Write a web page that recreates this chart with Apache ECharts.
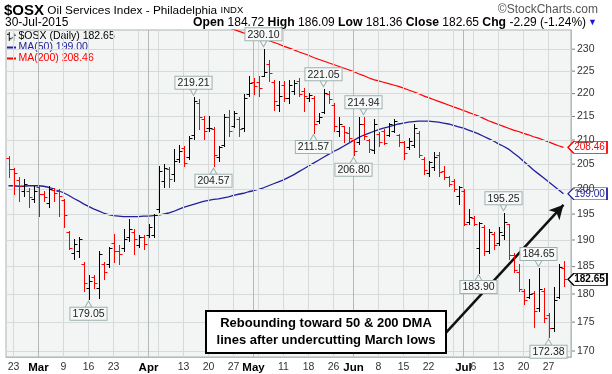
<!DOCTYPE html>
<html><head><meta charset="utf-8">
<script src="https://cdn.jsdelivr.net/npm/echarts@6/dist/echarts.min.js"></script>
<style>html,body{margin:0;padding:0;background:#fff}#c{width:612px;height:374px}</style>
</head><body><div id="c"></div>
<script>
// ---- data ----
const dates = [
 "2/20","2/23","2/24","2/25","2/26","2/27",
 "3/2","3/3","3/4","3/5","3/6","3/9","3/10","3/11","3/12","3/13","3/16","3/17","3/18","3/19","3/20","3/23","3/24","3/25","3/26","3/27","3/30","3/31",
 "4/1","4/2","4/6","4/7","4/8","4/9","4/10","4/13","4/14","4/15","4/16","4/17","4/20","4/21","4/22","4/23","4/24","4/27","4/28","4/29","4/30",
 "5/1","5/4","5/5","5/6","5/7","5/8","5/11","5/12","5/13","5/14","5/15","5/18","5/19","5/20","5/21","5/22","5/26","5/27","5/28","5/29",
 "6/1","6/2","6/3","6/4","6/5","6/8","6/9","6/10","6/11","6/12","6/15","6/16","6/17","6/18","6/19","6/22","6/23","6/24","6/25","6/26","6/29","6/30",
 "7/1","7/2","7/6","7/7","7/8","7/9","7/10","7/13","7/14","7/15","7/16","7/17","7/20","7/21","7/22","7/23","7/24","7/27","7/28","7/29","7/30"];
const opens = [
 206.3,204.0,201.8,199.5,199.5,198.0,200.3,199.0,197.2,199.8,
 199.5,197.8,191.5,187.5,188.0,185.5,181.0,183.0,181.0,185.5,
 185.5,189.5,188.0,188.5,190.5,191.5,189.0,190.5,191.0,191.0,
 196.0,201.5,204.0,203.0,206.0,208.3,206.5,211.0,218.0,214.5,
 212.5,212.3,206.5,209.0,215.0,213.0,214.5,212.5,219.8,222.5,
 222.5,224.0,226.5,222.5,217.5,222.0,219.0,220.5,222.8,220.5,
 219.0,219.0,214.0,216.0,220.0,217.5,212.0,213.0,211.5,210.0,
 209.5,213.5,210.0,208.0,211.2,212.0,211.0,212.0,211.0,209.5,
 208.5,209.0,211.5,206.0,203.2,204.5,206.8,203.5,202.4,201.5,
 198.5,199.5,193.5,194.3,188.5,192.5,188.0,191.2,189.5,191.0,
 193.0,187.2,184.0,180.5,179.5,180.2,177.5,180.5,176.2,174.0,
 179.5,184.72];
const highs = [
 206.6,204.1,202.3,201.9,200.2,200.6,200.6,199.6,200.6,200.2,
 199.9,198.0,191.8,190.2,190.5,185.8,183.4,183.4,188.0,185.8,
 188.6,191.2,189.0,192.1,194.1,192.1,190.9,190.9,193.1,195.1,
 204.7,205.0,204.5,208.1,209.0,208.8,210.8,219.21,218.7,215.1,
 215.1,212.7,208.8,215.5,216.5,216.2,214.8,219.8,223.8,223.4,
 223.8,230.10,227.6,223.1,222.8,222.8,223.1,223.1,223.4,221.3,
 220.2,219.4,215.8,221.05,220.6,218.0,214.8,213.0,212.8,210.2,
 214.8,214.94,210.2,214.4,211.6,212.3,213.7,214.4,211.2,209.8,
 210.5,213.3,211.9,206.4,205.7,207.4,207.4,204.7,202.6,201.9,
 200.6,199.9,196.0,194.7,193.5,192.8,192.1,191.5,192.4,195.25,
 193.1,187.6,185.4,180.9,182.8,180.5,184.65,181.0,176.6,181.3,
 185.5,186.09];
const lows = [
 202.3,198.9,197.6,198.5,196.3,197.3,194.7,197.6,196.3,197.6,
 194.7,192.4,188.3,186.5,186.8,180.5,179.05,181.1,179.3,182.8,
 184.9,185.8,185.5,188.0,189.8,187.3,188.6,188.3,190.5,190.5,
 195.4,200.3,200.3,201.5,205.5,204.7,206.0,210.2,212.3,210.2,
 211.9,204.57,205.7,208.8,210.8,212.7,210.8,211.9,219.4,219.8,
 219.4,223.8,222.8,216.5,216.2,218.3,218.0,219.8,219.4,216.2,
 218.3,211.57,213.7,215.8,218.0,211.9,210.8,209.5,209.5,206.80,
 209.1,210.2,207.4,207.2,208.8,209.1,210.8,211.6,208.8,206.0,
 208.1,208.5,206.4,203.0,202.6,203.7,202.6,201.9,200.6,199.6,
 197.0,192.8,193.1,192.8,183.90,187.1,187.6,188.3,189.0,190.2,
 186.5,184.0,180.5,178.2,179.2,174.2,176.9,175.1,172.38,173.4,
 179.3,181.36];
const closes = [
 204.0,203.1,200.6,201.0,198.3,199.6,198.9,198.3,199.9,199.2,
 198.6,194.8,188.5,189.2,190.2,181.9,182.3,182.0,187.3,184.0,
 188.4,188.0,187.3,190.2,192.1,190.2,190.6,189.2,192.4,194.9,
 203.6,204.2,201.9,205.7,207.8,205.3,210.5,218.3,214.8,211.9,
 212.6,206.8,208.5,214.8,211.9,215.8,212.3,219.1,222.4,221.6,
 221.3,224.7,224.5,218.3,219.4,219.0,222.0,222.4,219.8,219.4,
 219.7,213.3,215.0,220.2,218.7,213.0,213.3,211.6,210.5,207.8,
 213.3,210.8,208.1,213.5,209.5,209.3,213.3,214.0,209.5,207.2,
 209.8,212.6,206.8,203.7,205.4,206.5,203.3,202.3,201.0,199.9,
 200.3,193.1,194.4,193.0,193.2,187.9,191.5,189.0,191.5,193.5,
 187.1,184.3,180.9,178.9,180.0,176.9,180.9,175.7,173.9,178.9,
 184.94,182.65];
const ma50 = [
 200.6,200.6,200.5,200.5,200.6,200.6,200.6,200.5,200.3,200.0,
 199.6,199.2,198.7,198.1,197.6,197.0,196.5,196.0,195.6,195.2,
 194.9,194.7,194.6,194.5,194.5,194.5,194.5,194.6,194.6,194.7,
 194.8,195.0,195.2,195.5,195.9,196.3,196.6,196.9,197.2,197.5,
 197.7,197.9,198.0,198.2,198.4,198.7,198.9,199.1,199.4,199.6,
 199.9,200.2,200.6,201.0,201.4,201.8,202.3,202.8,203.4,204.0,
 204.6,205.2,205.8,206.4,207.0,207.6,208.1,208.7,209.3,209.9,
 210.5,211.0,211.4,211.8,212.2,212.5,212.8,213.1,213.4,213.6,
 213.8,213.9,214.0,214.0,214.0,213.9,213.8,213.6,213.4,213.1,
 212.8,212.5,212.1,211.7,211.3,210.8,210.3,209.8,209.2,208.7,
 208.1,207.3,206.5,205.6,204.7,203.8,203.0,202.2,201.4,200.6,
 199.8,199.00];
const ma200Start = 44;
const ma200Visible = [
 235.0,234.6,234.2,233.8,233.5,233.1,232.8,232.4,232.0,231.6,
 231.2,230.7,230.3,229.9,229.4,229.0,228.6,228.1,227.7,227.3,
 226.9,226.5,226.1,225.7,225.3,224.9,224.4,224.0,223.5,223.1,
 222.8,222.5,222.2,221.9,221.6,221.2,220.8,220.4,220.0,219.5,
 219.1,218.7,218.3,217.9,217.5,217.1,216.7,216.3,215.9,215.5,
 215.1,214.6,214.1,213.7,213.3,212.9,212.5,212.1,211.8,211.4,
 211.1,210.7,210.4,210.0,209.6,209.2,208.8,208.46];
const yTicks = [170,175,180,185,190,195,200,205,210,215,220,225,230];
const xLabelMap = {"2/23":"23","3/2":"Mar","3/9":"9","3/16":"16","3/23":"23","4/1":"Apr","4/13":"13","4/20":"20","4/27":"27",
 "5/1":"May","5/11":"11","5/18":"18","5/26":"26","6/1":"Jun","6/8":"8","6/15":"15","6/22":"22","7/1":"Jul","7/6":"6","7/13":"13","7/20":"20","7/27":"27"};
const weekLines = ["2/23","3/2","3/9","3/16","3/23","3/30","4/1","4/6","4/13","4/20","4/27","5/1","5/4","5/11","5/18","5/26","6/1","6/8","6/15","6/22","6/29","7/1","7/6","7/13","7/20","7/27"];
const monthLines = ["3/2","4/1","5/1","6/1","7/1"];
const callouts = [[51,'H'],[37,'H'],[63,'H'],[71,'H'],[99,'H'],[106,'H'],[41,'L'],[61,'L'],[69,'L'],[94,'L'],[16,'L'],[108,'L']];
const supportFrom = 10.3;
const arrowFrom = [87.3, 172.7], arrowTo = [110.9, 196.8];

// ---- build ----
const FONT = '"Liberation Sans", Arial, sans-serif';
const last = closes.length - 1;
const cats = dates.concat(['']);
const ohlc = dates.map((d,i)=>[i, opens[i], highs[i], lows[i], closes[i]]);
const up = closes.map((c,i)=> i===0 ? c>=opens[0] : c>=closes[i-1]);
const ma200 = new Array(ma200Start).fill(null).concat(ma200Visible);
const chg = closes[last]-closes[last-1];
const pct = chg/closes[last-1]*100;
const nOSX = '$OSX (Daily) ' + closes[last].toFixed(2);
const nMA50 = 'MA(50) ' + ma50[last].toFixed(2);
const nMA200 = 'MA(200) ' + ma200[last].toFixed(2);
const BLUE = '#22229a', RED = '#ff0000', GRID='#d6dada', MONTH='#b4b8b8';

const tagPath = 'path://M0,6L6,0L40,0L40,12L6,12Z';
function tag(value, col, bold){
  return {coord:[last, value], value: value.toFixed(2), symbol: tagPath, symbolSize:[39,12], symbolKeepAspect:false,
    symbolOffset:[24,0], itemStyle:{color:'#fff', borderColor:col, borderWidth:1},
    label:{show:true, position:'inside', offset:[2,0], formatter:'{c}', color:col, fontSize:10,
      fontWeight: bold?'bold':'normal', fontFamily:FONT}};
}
const calloutData = callouts.map(([i,t])=>{
  const v = t==='H'? highs[i] : lows[i];
  const top = t==='H';
  return {coord:[i, v], value: v.toFixed(2),
    symbol: top ? 'path://M0,0L10,0L5,7Z' : 'path://M5,0L10,7L0,7Z',
    symbolSize:[7,6], symbolOffset:[0, top?-5:5],
    itemStyle:{color:'#f7f9f9', borderColor:'#9fb0b0', borderWidth:1},
    label:{show:true, position: top?'top':'bottom', distance:0, formatter:'{c}', fontSize:10.5, fontFamily:FONT, color:'#222',
      backgroundColor:'#f7f9f9', borderColor:'#9fb0b0', borderWidth:1, padding:[1,2,0,2]}};
});

const legendLine = 'path://M0,0h0.01v0.01h-0.01zM0,4h10v2h-10zM9.99,9.99h0.01v0.01h-0.01z';
const legendOHLC = 'path://M2,0h1v10h-1zM0,2h2v1h-2zM3,7h2v1h-2zM7,1h1v9h-1zM5,6h2v1h-2zM8,3h2v1h-2z';

const chart = echarts.init(document.getElementById('c'));
chart.setOption({
  animation:false,
  backgroundColor:'#fff',
  textStyle:{fontFamily:FONT},
  grid:{left:6, right:41, top:30, bottom:15, show:true, backgroundColor:'#f3f4f4', borderColor:'#a9b4b4', borderWidth:1},
  legend:{left:7, top:31, padding:0, orient:'vertical', itemGap:0, itemWidth:10, itemHeight:9, selectedMode:false,
    textStyle:{fontSize:10.5, fontFamily:FONT, padding:[0,0,0,-3]},
    data:[{name:nOSX, icon:legendOHLC, itemStyle:{color:'#000'}, textStyle:{color:'#000'}},
          {name:nMA50, icon:legendLine, itemStyle:{color:BLUE}, textStyle:{color:BLUE}},
          {name:nMA200, icon:legendLine, itemStyle:{color:RED}, textStyle:{color:RED}}]},
  xAxis:{type:'category', data:cats, boundaryGap:true,
    axisLine:{show:true, lineStyle:{color:'#a9b4b4', type:'dotted'}},
    axisTick:{show:false}, splitLine:{show:false},
    axisLabel:{interval:(idx,val)=> xLabelMap[val]!==undefined, margin:5,
      formatter:(val)=>{const t=xLabelMap[val]; return /^[A-Z]/.test(t) ? '{m|'+t+'}' : '{d|'+t+'}';},
      rich:{m:{fontWeight:'bold', fontSize:11.5, color:'#000', fontFamily:FONT}, d:{fontSize:10.5, color:'#333', fontFamily:FONT}}}},
  yAxis:{type:'log', logBase:10, min:168.99, max:234.46, position:'right',
    axisLabel:{show:false}, axisTick:{show:false}, splitLine:{show:false},
    axisLine:{show:true, lineStyle:{color:'#a9b4b4', type:'dotted'}}},
  series:[
    {type:'line', name:'grid', data:[], silent:true, z:1,
      markLine:{silent:true, symbol:'none', animation:false,
        data:[
          ...yTicks.map(v=>({yAxis:v, lineStyle:{color:GRID, width:1, type:'solid'},
             label:{show:true, position:'end', distance:1, formatter:'{t|}{v|'+v+'}',
               rich:{t:{width:3, height:1, backgroundColor:'#7a8080'}, v:{fontSize:10.5, color:'#333', fontFamily:FONT, padding:[0,0,0,2]}}}})),
          ...weekLines.map(d=>({xAxis:d, lineStyle:{color: monthLines.includes(d)?MONTH:GRID, width:1, type:'solid'}, label:{show:false}}))
        ]}},
    {type:'line', name:'support', data:[], silent:true, z:2,
      markLine:{silent:true, symbol:'none', animation:false, label:{show:false},
        lineStyle:{color:'#000', width:1, type:'solid'},
        data:[[{coord:[supportFrom, lows[16]]},{coord:[cats.length-0.5, lows[16]]}]]}},
    {type:'line', name:nMA200, data:ma200, showSymbol:false, symbol:'none', z:4, silent:true,
      lineStyle:{color:RED, width:1.2}, itemStyle:{color:RED},
      markPoint:{silent:true, data:[tag(ma200[last], RED, false)]}},
    {type:'line', name:nMA50, data:ma50, showSymbol:false, symbol:'none', z:4, silent:true,
      lineStyle:{color:BLUE, width:1.3}, itemStyle:{color:BLUE},
      markPoint:{silent:true, data:[tag(ma50[last], BLUE, false)]}},
    {type:'custom', name:nOSX, data:ohlc, z:5, silent:true, encode:{x:0, y:[1,2,3,4]}, itemStyle:{color:'#000'},
      renderItem:(params, api)=>{
        const i = api.value(0);
        const pO = api.coord([i, api.value(1)]), pH = api.coord([i, api.value(2)]);
        const pL = api.coord([i, api.value(3)]), pC = api.coord([i, api.value(4)]);
        const x = Math.round(pH[0]) + 0.5;
        const col = up[params.dataIndex] ? '#000' : RED;
        const st = {stroke:col, lineWidth:1};
        const yo = Math.round(pO[1]) + 0.5, yc = Math.round(pC[1]) + 0.5;
        return {type:'group', children:[
          {type:'line', shape:{x1:x, y1:Math.round(pH[1]), x2:x, y2:Math.round(pL[1])+1}, style:st},
          {type:'line', shape:{x1:x-3, y1:yo, x2:x, y2:yo}, style:st},
          {type:'line', shape:{x1:x, y1:yc, x2:x+3, y2:yc}, style:st}
        ]};
      },
      markPoint:{silent:true, data:[...calloutData, tag(closes[last], '#000', true)]}},
    {type:'line', name:'arrow', data:[], silent:true, z:50, zlevel:1,
      markLine:{silent:true, animation:false, label:{show:false}, symbol:['none','arrow'], symbolSize:[11,14],
        lineStyle:{color:'#111', width:2.5, type:'solid'},
        data:[[{coord:arrowFrom},{coord:arrowTo}]]}}
  ],
  graphic:[
    {type:'text', left:4, top:3, style:{text:'{a|$OSX} {b|Oil Services Index - Philadelphia} {c|INDX}',
      rich:{a:{fontSize:15, fontWeight:'bold', fill:'#000', fontFamily:FONT},
            b:{fontSize:11.8, fill:'#000', fontFamily:FONT}, c:{fontSize:9.5, fill:'#000', fontFamily:FONT}}}},
    {type:'text', right:14, top:4, style:{text:'\u00A9StockCharts.com', fontSize:12, fill:'#555', fontFamily:FONT}},
    {type:'text', left:5, top:17, style:{text:'30-Jul-2015', fontSize:12, fill:'#000', fontFamily:FONT}},
    {type:'text', right:15, top:17, style:{
      text:'{b|Open} '+opens[last].toFixed(2)+' {b|High} '+highs[last].toFixed(2)+' {b|Low} '+lows[last].toFixed(2)+
           ' {b|Close} '+closes[last].toFixed(2)+' {b|Chg} '+chg.toFixed(2)+' ('+pct.toFixed(2)+'%){t|\u25BC}',
      fontSize:12, fill:'#000', fontFamily:FONT,
      rich:{b:{fontSize:12.2, fontWeight:'bold', fill:'#000', fontFamily:FONT}, t:{fontSize:9, fill:'#1515e0', padding:[0,0,0,2]}}}},
    {type:'group', left:205, top:310, z:100, zlevel:1, children:[
      {type:'rect', z:100, shape:{x:0, y:0, width:240, height:42}, style:{fill:'#fff', stroke:'#000', lineWidth:2}},
      {type:'text', z:101, style:{x:120, y:21, text:'Rebounding toward 50 & 200 DMA\nlines after undercutting March lows',
        fontSize:13, fontWeight:'bold', fill:'#000', fontFamily:FONT, align:'center', verticalAlign:'middle', lineHeight:17}}
    ]}
  ]
});
</script></body></html>
